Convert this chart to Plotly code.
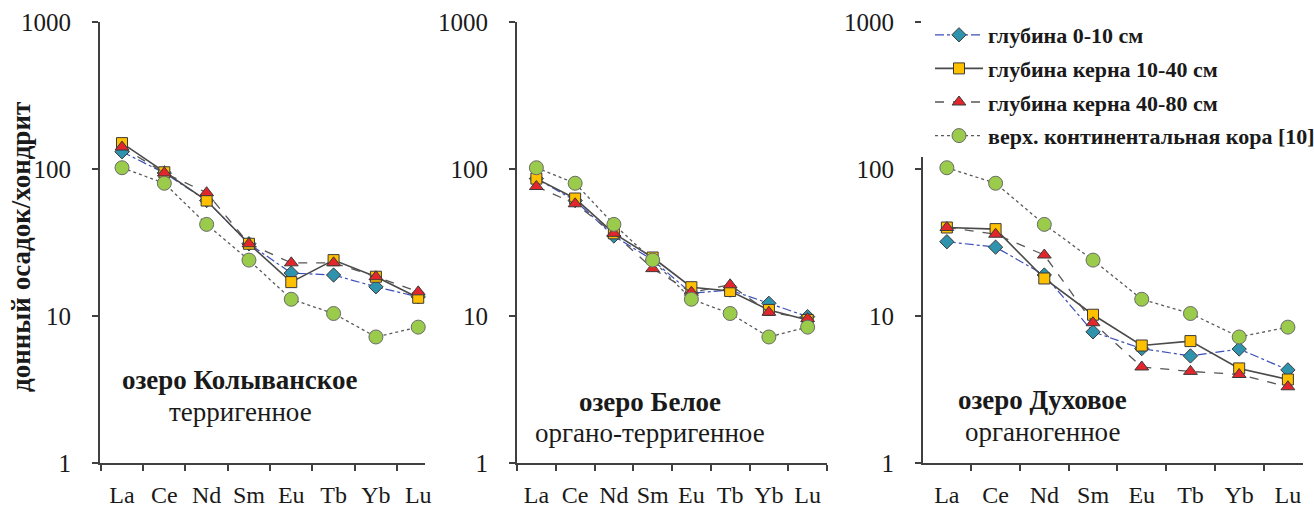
import plotly.graph_objects as go

W, H = 1314, 511

elements = ["La", "Ce", "Nd", "Sm", "Eu", "Tb", "Yb", "Lu"]

series_names = [
    "глубина 0-10 см",
    "глубина керна 10-40 см",
    "глубина керна 40-80 см",
    "верх. континентальная кора [10]",
]

# Lake Kolyvanskoe
kol_0_10 = [131, 94, 61, 31, 19.6, 19, 15.8, 13.5]
kol_10_40 = [150, 95, 61, 31, 17, 24, 18.5, 13.3]
kol_40_80 = [141, 94, 69, 31, 23, 23, 18.5, 14.6]
# Lake Beloe
bel_0_10 = [86, 61, 35, 24, 14.3, 15, 12.2, 9.9]
bel_10_40 = [86, 63, 36.5, 25, 15.7, 14.8, 11, 9.4]
bel_40_80 = [76, 58, 36.5, 21, 14.5, 16.3, 10.6, 9.6]
# Lake Dukhovoe
duh_0_10 = [32, 29.4, 19, 7.8, 6.0, 5.35, 5.96, 4.3]
duh_10_40 = [40, 39, 18, 10.2, 6.3, 6.75, 4.4, 3.7]
duh_40_80 = [40, 36, 26, 9, 4.5, 4.2, 4.0, 3.3]
# Upper continental crust
crust = [102, 80, 42, 24, 13, 10.4, 7.2, 8.4]

panel_titles = ["озеро Колыванское", "озеро Белое", "озеро Духовое"]
panel_subtitles = ["терригенное", "органо-терригенное", "органогенное"]
y_tick_vals = [1, 10, 100, 1000]
y_tick_text = ["1", "10", "100", "1000"]
y_title = "донный осадок/хондрит"

panels = [
    [kol_0_10, kol_10_40, kol_40_80, crust],
    [bel_0_10, bel_10_40, bel_40_80, crust],
    [duh_0_10, duh_10_40, duh_40_80, crust],
]

styles = [
    dict(line=dict(color="#3b4fb8", width=1.2, dash="dashdot"),
         marker=dict(symbol="diamond", size=11, color="#2f93ad",
                     line=dict(color="#3a3a3a", width=1))),
    dict(line=dict(color="#4a4a4a", width=1.6, dash="solid"),
         marker=dict(symbol="square", size=11, color="#ffc000",
                     line=dict(color="#3a3a3a", width=1))),
    dict(line=dict(color="#555555", width=1.3, dash="dash"),
         marker=dict(symbol="triangle-up", size=12, color="#e3262b",
                     line=dict(color="#3a3a3a", width=1))),
    dict(line=dict(color="#5a5a5a", width=1.3, dash="dot"),
         marker=dict(symbol="circle", size=14, color="#9bcb4b",
                     line=dict(color="#6a6a6a", width=1))),
]

# pixel geometry of the panels
x_px = [(100, 425), (517, 827), (923, 1303)]
x_ranges = [[-0.52, 7.16], [-0.5, 7.5], [-0.49, 7.31]]
y_top, y_bot = 22, 463
ann_pos = [((240, 380), (240, 412)), ((650, 402), (650, 433)), ((1042, 400), (1042, 432))]

FONT = "Liberation Serif, DejaVu Serif, serif"
fig = go.Figure()

for p, data in enumerate(panels):
    xa = "x" if p == 0 else f"x{p+1}"
    ya = "y" if p == 0 else f"y{p+1}"
    for s, vals in enumerate(data):
        fig.add_trace(go.Scatter(
            x=elements, y=vals, mode="lines+markers",
            name=series_names[s], legendgroup=f"g{s}",
            showlegend=(p == 2),
            line=styles[s]["line"], marker=styles[s]["marker"],
            xaxis=xa, yaxis=ya, cliponaxis=False,
        ))

layout = dict(
    width=W, height=H,
    margin=dict(l=0, r=0, t=0, b=0, autoexpand=False),
    paper_bgcolor="white", plot_bgcolor="white",
    showlegend=True,
    font=dict(family=FONT, color="#1a1a1a"),
    legend=dict(
        x=921 / W, y=1 - 14 / H, xanchor="left", yanchor="top",
        bgcolor="white", borderwidth=0,
        font=dict(family=FONT, size=22, color="#1a1a1a", weight="bold"),
        itemwidth=48, indentation=9, tracegroupgap=2, traceorder="grouped",
    ),
)

for p in range(3):
    xk = "xaxis" if p == 0 else f"xaxis{p+1}"
    yk = "yaxis" if p == 0 else f"yaxis{p+1}"
    ya = "y" if p == 0 else f"y{p+1}"
    xa = "x" if p == 0 else f"x{p+1}"
    layout[xk] = dict(
        domain=[x_px[p][0] / W, x_px[p][1] / W], anchor=ya,
        type="category", range=x_ranges[p], automargin=False,
        showline=True, linecolor="#404040", linewidth=2,
        ticks="outside", tickson="boundaries", ticklen=6, tickwidth=1.5,
        tickcolor="#404040", showgrid=False, zeroline=False,
        tickfont=dict(family=FONT, size=24, color="#1a1a1a"),
        ticklabelstandoff=9, tickangle=0,
    )
    layout[yk] = dict(
        domain=[1 - y_bot / H, 1 - y_top / H], anchor=xa,
        type="log", range=[0, 3], automargin=False,
        tickvals=y_tick_vals, ticktext=y_tick_text,
        showline=True, linecolor="#404040", linewidth=2,
        ticks="outside", ticklen=6, tickwidth=1.5, tickcolor="#404040",
        showgrid=False, zeroline=False,
        tickfont=dict(family=FONT, size=25, color="#1a1a1a"),
        ticklabelstandoff=16,
    )

fig.update_layout(**layout)

annotations = []
for p in range(3):
    (tx, ty), (sx, sy) = ann_pos[p]
    annotations.append(dict(
        x=tx / W, y=1 - ty / H, xref="paper", yref="paper",
        text=f"<b>{panel_titles[p]}</b>", showarrow=False,
        font=dict(family=FONT, size=27, color="#1a1a1a"),
        xanchor="center", yanchor="middle",
    ))
    annotations.append(dict(
        x=sx / W, y=1 - sy / H, xref="paper", yref="paper",
        text=panel_subtitles[p], showarrow=False,
        font=dict(family=FONT, size=27, color="#1a1a1a"),
        xanchor="center", yanchor="middle",
    ))
annotations.append(dict(
    x=21 / W, y=1 - 247 / H, xref="paper", yref="paper",
    text=f"<b>{y_title}</b>", showarrow=False, textangle=-90,
    font=dict(family=FONT, size=27, color="#1a1a1a"),
    xanchor="center", yanchor="middle",
))
fig.update_layout(annotations=annotations)

fig.write_html(
    "out.html",
    config={"displayModeBar": False},
    post_script="document.body.style.margin='0px';document.body.style.overflow='hidden';",
)
